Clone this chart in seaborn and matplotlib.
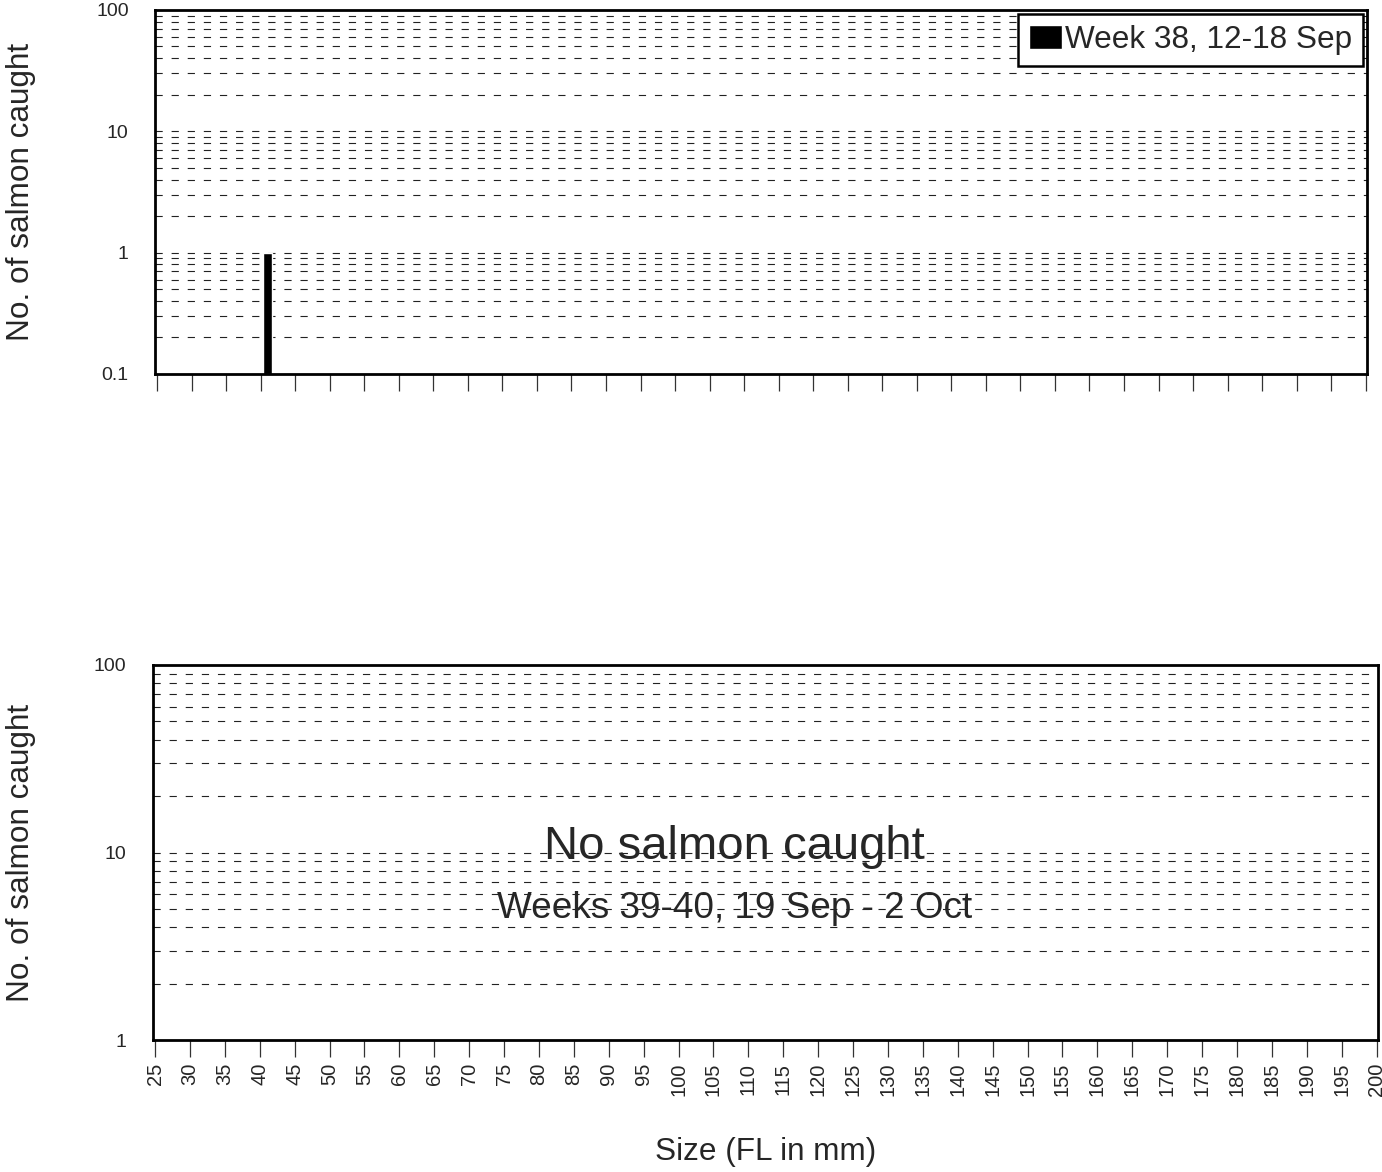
import numpy as np
import pandas as pd
import seaborn as sns
import matplotlib.pyplot as plt
from matplotlib.ticker import FixedLocator, LogLocator, NullFormatter

# --- data ---
# week 38 catch: fork length (mm) and number of salmon caught
week38_size = [41]
week38_count = [1]
week38_label = "Week 38, 12-18 Sep"

size_ticks = [25, 30, 35, 40, 45, 50, 55, 60, 65, 70, 75, 80, 85, 90, 95, 100,
              105, 110, 115, 120, 125, 130, 135, 140, 145, 150, 155, 160, 165,
              170, 175, 180, 185, 190, 195, 200]

top_yticks = [0.1, 1, 10, 100]
top_ytick_labels = ["0.1", "1", "10", "100"]
bottom_yticks = [1, 10, 100]
bottom_ytick_labels = ["1", "10", "100"]

no_catch_title = "No salmon caught"
no_catch_weeks = "Weeks 39-40, 19 Sep - 2 Oct"

ylabel = "No. of salmon caught"
xlabel = "Size (FL in mm)"

week38_df = pd.DataFrame({"size": week38_size, "count": week38_count})

# --- style ---
sns.set_style("white")
plt.rcParams['font.family'] = ['Liberation Sans', 'DejaVu Sans']

fig = plt.figure(figsize=(13.82, 11.72), dpi=100)
ax_top = fig.add_axes([0.1122, 0.6809, 0.8770, 0.3106])
ax_bot = fig.add_axes([0.1107, 0.1126, 0.8864, 0.3200])

grid_kw = dict(color="#222222", linestyle=(0, (6.5, 8)), linewidth=0.8)


def style_axis(ax, yticks, ytick_labels, ylim):
    ax.set_yscale("log")
    ax.set_ylim(*ylim)
    ax.set_xlim(24.7, 200.2)
    ax.yaxis.set_major_locator(FixedLocator(yticks))
    ax.set_yticklabels(ytick_labels)
    ax.yaxis.set_minor_locator(LogLocator(base=10, subs=np.arange(2, 10)))
    ax.yaxis.set_minor_formatter(NullFormatter())
    ax.grid(True, which="both", axis="y", **grid_kw)
    ax.grid(False, axis="x")
    ax.set_axisbelow(True)
    ax.xaxis.set_major_locator(FixedLocator(size_ticks))
    ax.tick_params(axis="y", which="both", length=0, pad=19, labelsize=14)
    ax.tick_params(axis="x", which="major", bottom=True, length=12.5, width=0.9,
                   color="#333333", direction="out", pad=4, labelsize=14.5)
    for s in ax.spines.values():
        s.set_visible(True)
        s.set_color("black")
        s.set_linewidth(2)
    ax.set_ylabel(ylabel, fontsize=22.7)


# region: top panel - week 38
sns.barplot(
    data=week38_df,
    x="size",
    y="count",
    native_scale=True,
    color="black",
    saturation=1,
    width=1.3,
    errorbar=None,
    label=week38_label,
    ax=ax_top,
)
style_axis(ax_top, top_yticks, top_ytick_labels, (0.1, 100))
ax_top.tick_params(axis="x", labelbottom=False)
ax_top.set_xlabel("")
ax_top.yaxis.set_label_coords(-0.098, 0.5)

leg = ax_top.legend(
    loc="upper right",
    fontsize=22.7,
    frameon=True,
    fancybox=False,
    framealpha=1,
    edgecolor="black",
    handlelength=1.05,
    handleheight=0.8,
    handletextpad=0.1,
    borderpad=0.35,
    borderaxespad=0.12,
)
leg.get_frame().set_linewidth(1.8)
# endregion

# region: bottom panel - no catch
style_axis(ax_bot, bottom_yticks, bottom_ytick_labels, (1, 100))
ax_bot.set_xticklabels([str(t) for t in size_ticks], rotation=90)
ax_bot.set_xlabel(xlabel, fontsize=22.7)
ax_bot.xaxis.set_label_coords(0.5, -0.259)
ax_bot.yaxis.set_label_coords(-0.0955, 0.5)

ax_bot.text(0.475, 0.515, no_catch_title, transform=ax_bot.transAxes,
            ha="center", va="center", fontsize=34)
ax_bot.text(0.475, 0.35, no_catch_weeks, transform=ax_bot.transAxes,
            ha="center", va="center", fontsize=26.6)
# endregion

fig.savefig("out.png", dpi=100)
plt.close(fig)
